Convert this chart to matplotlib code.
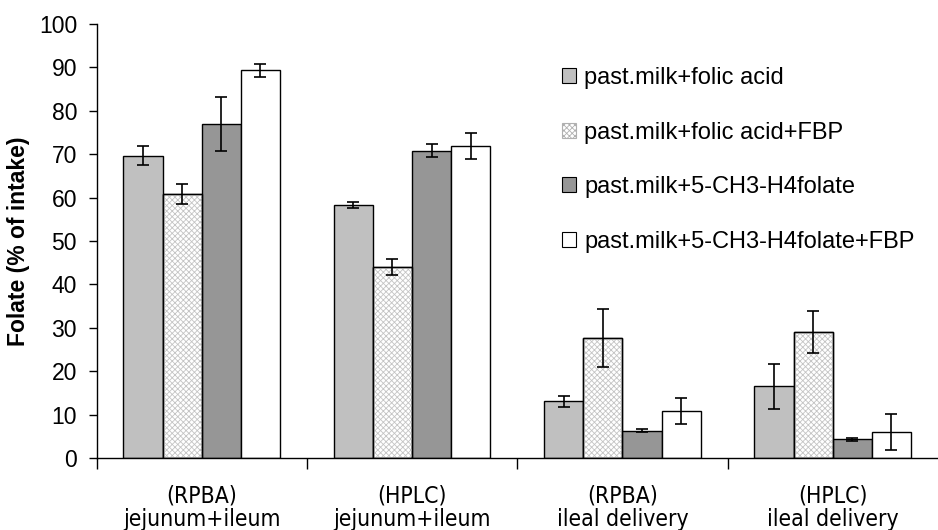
import matplotlib
matplotlib.use("Agg")
import matplotlib.pyplot as plt
import numpy as np
from matplotlib.patches import Patch

plt.rcParams['font.family'] = ['Liberation Sans', 'DejaVu Sans']
plt.rcParams['hatch.linewidth'] = 0.6

# data: folate recovery per treatment
categories = ["(RPBA)\njejunum+ileum", "(HPLC)\njejunum+ileum",
              "(RPBA)\nileal delivery", "(HPLC)\nileal delivery"]
series = ["past.milk+folic acid", "past.milk+folic acid+FBP",
          "past.milk+5-CH3-H4folate", "past.milk+5-CH3-H4folate+FBP"]
means = [
    [69.6, 58.3, 13.1, 16.5],
    [60.8, 44.0, 27.7, 29.0],
    [77.0, 70.8, 6.3, 4.3],
    [89.3, 72.0, 10.9, 6.0],
]
errors = [
    [2.2, 0.6, 1.3, 5.2],
    [2.3, 1.8, 6.7, 4.8],
    [6.2, 1.5, 0.3, 0.3],
    [1.5, 3.0, 3.0, 4.2],
]

face = ['#c0c0c0', 'white', '#969696', 'white']
hatch = [None, 'xxxxxx', None, None]

fig = plt.figure(figsize=(9.38, 5.3), dpi=100)
ax = fig.add_axes([0.1029, 0.1358, 0.897, 0.8189])

x = np.arange(len(categories))
w = 0.186
for i, name in enumerate(series):
    pos = x + (i - 1.5) * w
    ax.bar(pos, means[i], w, color=face[i], edgecolor='black', linewidth=1.0,
           zorder=2)
    if hatch[i]:
        # light grey hatch inside, black outline on top
        ax.bar(pos, means[i], w, color='none', edgecolor='#c4c4c4',
               linewidth=0, hatch=hatch[i], zorder=2.1)
        ax.bar(pos, means[i], w, color='none', edgecolor='black',
               linewidth=1.0, zorder=2.2)
    ax.errorbar(pos, means[i], yerr=errors[i], fmt='none', ecolor='black',
                elinewidth=1.2, capsize=4, capthick=1.2, zorder=3)

ax.set_xlim(-0.5, 3.5)
ax.set_ylim(0, 100)
ax.set_yticks(np.arange(0, 101, 10))
ax.tick_params(axis='y', labelsize=16.5, length=6, width=1, direction='out', pad=8)

ax.set_xticks(np.arange(-0.5, 3.5, 1.0))
ax.set_xticklabels([])
ax.tick_params(axis='x', which='major', length=8, width=1, direction='out')
ax.set_xticks(x, minor=True)
ax.set_xticklabels(categories, minor=True, fontsize=16.5, family='DejaVu Sans',
                   fontstretch='condensed', linespacing=1.05)
ax.tick_params(axis='x', which='minor', length=0, pad=19)

for s in ['top', 'right']:
    ax.spines[s].set_visible(False)
ax.spines['left'].set_linewidth(1)
ax.spines['bottom'].set_linewidth(1)

ax.set_ylabel("Folate (% of intake)", fontsize=16.5, fontweight='bold', labelpad=6)

# legend swatches
handles = []
for i in range(len(series)):
    handles.append(Patch(facecolor=face[i], edgecolor='black', linewidth=0.8))
handles[1] = Patch(facecolor='white', edgecolor='#b0b0b0', hatch='xxxxxx', linewidth=0.8)
leg = ax.legend(handles, series, loc='upper left', bbox_to_anchor=(0.528, 0.95),
                frameon=False, fontsize=17, handlelength=0.6, handleheight=0.6,
                handletextpad=0.35, labelspacing=1.38)

fig.savefig("out.png", dpi=100)
